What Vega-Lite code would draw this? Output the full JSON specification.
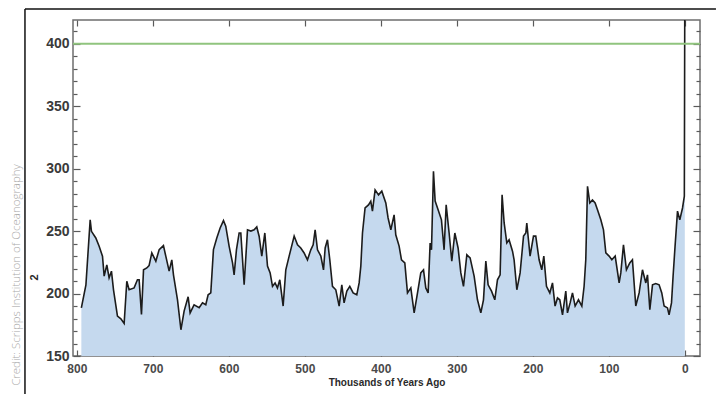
{
  "$schema": "https://vega.github.io/schema/vega-lite/v6.json",
  "width": 627,
  "height": 336,
  "autosize": "none",
  "padding": {"left": 73, "top": 20, "right": 16, "bottom": 38},
  "background": "white",
  "config": {
    "view": {"stroke": "#6e6e6e", "strokeWidth": 1.5},
    "axis": {
      "domain": false,
      "grid": false,
      "labelFont": "Liberation Sans",
      "labelFontWeight": "bold",
      "labelColor": "#3a3a3a",
      "tickColor": "#5a5a5a",
      "tickWidth": 1.2,
      "titleFont": "Liberation Sans",
      "titleFontWeight": "bold",
      "titleColor": "#2a2a2a"
    }
  },
  "title": {
    "text": "Credit: Scripps Institution of Oceanography",
    "orient": "left",
    "anchor": "start",
    "font": "Open Sans",
    "fontWeight": 300,
    "fontSize": 11.5,
    "color": "#a9a9a9",
    "offset": 2,
    "dx": 10
  },
  "data": {
    "values": [
      {"kyr": 794, "co2": 188.6}, {"kyr": 788, "co2": 207}, {"kyr": 782.4, "co2": 259}, {"kyr": 780.7, "co2": 249.8},
      {"kyr": 775, "co2": 244.5}, {"kyr": 770.6, "co2": 237.9}, {"kyr": 766.2, "co2": 229.9}, {"kyr": 764, "co2": 213.9},
      {"kyr": 760.5, "co2": 223}, {"kyr": 757.5, "co2": 212.5}, {"kyr": 754.4, "co2": 217.9}, {"kyr": 751.7, "co2": 203},
      {"kyr": 746.5, "co2": 181.9}, {"kyr": 742, "co2": 179.7}, {"kyr": 737.7, "co2": 176}, {"kyr": 734.2, "co2": 209.9},
      {"kyr": 731.2, "co2": 203}, {"kyr": 724.6, "co2": 204.5}, {"kyr": 720.2, "co2": 211}, {"kyr": 718, "co2": 211},
      {"kyr": 714.9, "co2": 183.2}, {"kyr": 712.2, "co2": 219}, {"kyr": 707.9, "co2": 220.5}, {"kyr": 704.9, "co2": 222.4},
      {"kyr": 701.3, "co2": 232.5}, {"kyr": 696, "co2": 225.9}, {"kyr": 691.6, "co2": 235.2}, {"kyr": 686, "co2": 238.4},
      {"kyr": 682.9, "co2": 229.9}, {"kyr": 678.5, "co2": 217.9}, {"kyr": 675, "co2": 227}, {"kyr": 672.8, "co2": 215},
      {"kyr": 667.5, "co2": 195}, {"kyr": 663, "co2": 171}, {"kyr": 658.8, "co2": 185.9}, {"kyr": 653.5, "co2": 197.4},
      {"kyr": 650.9, "co2": 184.5}, {"kyr": 645.7, "co2": 191}, {"kyr": 639, "co2": 188.6}, {"kyr": 634.6, "co2": 192.6},
      {"kyr": 630.3, "co2": 191}, {"kyr": 627.2, "co2": 199}, {"kyr": 623.7, "co2": 200.5}, {"kyr": 620.2, "co2": 235.2},
      {"kyr": 615.8, "co2": 244.5}, {"kyr": 611.4, "co2": 252.5}, {"kyr": 607, "co2": 258.4}, {"kyr": 604, "co2": 253.9},
      {"kyr": 599.6, "co2": 238}, {"kyr": 595.1, "co2": 224.5}, {"kyr": 593, "co2": 215}, {"kyr": 589.9, "co2": 235.2},
      {"kyr": 586.4, "co2": 248.5}, {"kyr": 584.2, "co2": 248.5}, {"kyr": 579.8, "co2": 207}, {"kyr": 575.4, "co2": 251},
      {"kyr": 571, "co2": 250}, {"kyr": 566.7, "co2": 251}, {"kyr": 563.2, "co2": 253.3}, {"kyr": 560.1, "co2": 245.9},
      {"kyr": 556.6, "co2": 229.9}, {"kyr": 552.6, "co2": 248.5}, {"kyr": 549.1, "co2": 222}, {"kyr": 545.6, "co2": 216.5},
      {"kyr": 542.5, "co2": 205.8}, {"kyr": 539.1, "co2": 208.5}, {"kyr": 536, "co2": 204.5}, {"kyr": 532.9, "co2": 211},
      {"kyr": 528.5, "co2": 190}, {"kyr": 525, "co2": 219}, {"kyr": 520.6, "co2": 230}, {"kyr": 514, "co2": 246},
      {"kyr": 509.6, "co2": 239}, {"kyr": 505.3, "co2": 236.5}, {"kyr": 500.9, "co2": 232.5}, {"kyr": 496.5, "co2": 227},
      {"kyr": 492.1, "co2": 235}, {"kyr": 489, "co2": 239}, {"kyr": 486.4, "co2": 251}, {"kyr": 483.3, "co2": 235},
      {"kyr": 478.9, "co2": 230}, {"kyr": 475.4, "co2": 219}, {"kyr": 473.2, "co2": 236.5}, {"kyr": 470.2, "co2": 243},
      {"kyr": 467.1, "co2": 227}, {"kyr": 463.6, "co2": 205.8}, {"kyr": 459.2, "co2": 203}, {"kyr": 454.8, "co2": 190},
      {"kyr": 451.3, "co2": 207}, {"kyr": 448.3, "co2": 192.5}, {"kyr": 444.7, "co2": 201.9}, {"kyr": 440.8, "co2": 205.8},
      {"kyr": 436.4, "co2": 200.5}, {"kyr": 431.6, "co2": 199}, {"kyr": 428.5, "co2": 208.5}, {"kyr": 426.3, "co2": 222},
      {"kyr": 424.1, "co2": 248.5}, {"kyr": 420.7, "co2": 268.5}, {"kyr": 416.2, "co2": 271}, {"kyr": 413.2, "co2": 273.9},
      {"kyr": 411, "co2": 266}, {"kyr": 407.5, "co2": 283}, {"kyr": 403, "co2": 279}, {"kyr": 398.7, "co2": 282},
      {"kyr": 393.4, "co2": 272.5}, {"kyr": 390.4, "co2": 260.5}, {"kyr": 386.8, "co2": 251}, {"kyr": 382.5, "co2": 263},
      {"kyr": 380.3, "co2": 247}, {"kyr": 375.9, "co2": 238}, {"kyr": 372.8, "co2": 227}, {"kyr": 368.4, "co2": 224.5},
      {"kyr": 364.9, "co2": 200.5}, {"kyr": 360.5, "co2": 204.5}, {"kyr": 356.1, "co2": 184.5}, {"kyr": 351.7, "co2": 200.5},
      {"kyr": 347.4, "co2": 216.5}, {"kyr": 343.8, "co2": 219}, {"kyr": 340.8, "co2": 204.5}, {"kyr": 337.7, "co2": 200.5},
      {"kyr": 335.1, "co2": 240.5}, {"kyr": 333.3, "co2": 235}, {"kyr": 330.7, "co2": 297.9}, {"kyr": 328.5, "co2": 274},
      {"kyr": 324.6, "co2": 267}, {"kyr": 320.2, "co2": 259}, {"kyr": 316.7, "co2": 235}, {"kyr": 314, "co2": 271},
      {"kyr": 310.1, "co2": 248.5}, {"kyr": 306.6, "co2": 226}, {"kyr": 302.6, "co2": 248.5}, {"kyr": 298.3, "co2": 236.5},
      {"kyr": 294.7, "co2": 216.5}, {"kyr": 291.2, "co2": 205.8}, {"kyr": 286.8, "co2": 231}, {"kyr": 282.5, "co2": 228.5},
      {"kyr": 277.2, "co2": 214}, {"kyr": 272.8, "co2": 195}, {"kyr": 268.4, "co2": 184.5}, {"kyr": 264.9, "co2": 195},
      {"kyr": 261.8, "co2": 226}, {"kyr": 258.8, "co2": 207}, {"kyr": 254.3, "co2": 201.9}, {"kyr": 250, "co2": 195},
      {"kyr": 246.5, "co2": 211}, {"kyr": 243, "co2": 215}, {"kyr": 240.4, "co2": 279}, {"kyr": 237.7, "co2": 256.5},
      {"kyr": 234.2, "co2": 240.5}, {"kyr": 231.2, "co2": 243}, {"kyr": 226.7, "co2": 233.9}, {"kyr": 224.6, "co2": 227},
      {"kyr": 221, "co2": 203}, {"kyr": 216.7, "co2": 216.5}, {"kyr": 212.2, "co2": 246}, {"kyr": 209.2, "co2": 248.5},
      {"kyr": 207.9, "co2": 256.5}, {"kyr": 203.6, "co2": 230}, {"kyr": 199.1, "co2": 246}, {"kyr": 196.1, "co2": 246},
      {"kyr": 191.7, "co2": 227}, {"kyr": 188.2, "co2": 219}, {"kyr": 185.5, "co2": 230}, {"kyr": 182, "co2": 205.8},
      {"kyr": 177.6, "co2": 200.5}, {"kyr": 174.1, "co2": 208.5}, {"kyr": 170.7, "co2": 190}, {"kyr": 167.5, "co2": 196.5},
      {"kyr": 164.5, "co2": 195}, {"kyr": 160.9, "co2": 183}, {"kyr": 156.6, "co2": 202}, {"kyr": 154.4, "co2": 184.5},
      {"kyr": 150.9, "co2": 192.5}, {"kyr": 147.8, "co2": 200.5}, {"kyr": 144.3, "co2": 190}, {"kyr": 139.9, "co2": 195},
      {"kyr": 135.5, "co2": 190}, {"kyr": 132.5, "co2": 205.8}, {"kyr": 130.3, "co2": 227}, {"kyr": 128, "co2": 285.9},
      {"kyr": 125, "co2": 272.5}, {"kyr": 121.5, "co2": 275}, {"kyr": 118, "co2": 272.5}, {"kyr": 114.9, "co2": 267},
      {"kyr": 110.5, "co2": 259}, {"kyr": 107, "co2": 251}, {"kyr": 103.9, "co2": 232.5}, {"kyr": 99.6, "co2": 230},
      {"kyr": 96, "co2": 227}, {"kyr": 91.6, "co2": 230}, {"kyr": 86.4, "co2": 208.5}, {"kyr": 84.2, "co2": 216.5},
      {"kyr": 80.7, "co2": 239}, {"kyr": 76.8, "co2": 219}, {"kyr": 72.4, "co2": 224.5}, {"kyr": 68.9, "co2": 227},
      {"kyr": 64.5, "co2": 190}, {"kyr": 60.1, "co2": 200.5}, {"kyr": 55.7, "co2": 219}, {"kyr": 51.3, "co2": 208.5},
      {"kyr": 49.1, "co2": 215}, {"kyr": 46, "co2": 187}, {"kyr": 42.5, "co2": 207}, {"kyr": 38.2, "co2": 208},
      {"kyr": 33.8, "co2": 207}, {"kyr": 30.3, "co2": 200.5}, {"kyr": 27.2, "co2": 190}, {"kyr": 22.8, "co2": 188.5},
      {"kyr": 20.7, "co2": 183}, {"kyr": 17.5, "co2": 192.5}, {"kyr": 15.4, "co2": 214}, {"kyr": 12.8, "co2": 238},
      {"kyr": 9.6, "co2": 266}, {"kyr": 6.6, "co2": 259}, {"kyr": 3, "co2": 268.5}, {"kyr": 0.6, "co2": 278},
      {"kyr": 0, "co2": 440}
    ]
  },
  "layer": [
    {
      "mark": {"type": "area", "color": "#c5d9ee", "clip": true},
      "encoding": {
        "x": {
          "field": "kyr", "type": "quantitative",
          "scale": {"domain": [-20, 805], "reverse": true, "nice": false, "zero": false},
          "axis": {
            "orient": "bottom",
            "values": [0, 100, 200, 300, 400, 500, 600, 700, 800],
            "tickSize": -6,
            "labelPadding": 13,
            "labelFontSize": 12,
            "labelColor": "#4a4a4a",
            "title": "Thousands of Years Ago",
            "titleFontSize": 10,
            "titlePadding": 3
          }
        },
        "y": {
          "field": "co2", "type": "quantitative",
          "scale": {"domain": [150, 419], "nice": false, "zero": false},
          "axis": {
            "orient": "left",
            "values": [150, 160, 170, 180, 190, 200, 210, 220, 230, 240, 250, 260, 270, 280, 290, 300, 310, 320, 330, 340, 350, 360, 370, 380, 390, 400, 410],
            "labelExpr": "datum.value % 50 === 0 ? datum.label : ''",
            "tickSize": {"condition": {"test": "datum.value % 50 === 0", "value": -7}, "value": -4},
            "labelPadding": 11,
            "labelFontSize": 14,
            "title": "2",
            "titleFontSize": 11,
            "titlePadding": 6,
            "titleY": 257
          }
        },
        "y2": {"datum": 150}
      }
    },
    {
      "mark": {"type": "line", "color": "#1c1c1c", "strokeWidth": 1.6, "clip": true},
      "encoding": {
        "x": {"field": "kyr", "type": "quantitative", "scale": {"domain": [-20, 805], "reverse": true, "nice": false, "zero": false}, "axis": null},
        "y": {"field": "co2", "type": "quantitative", "scale": {"domain": [150, 419], "nice": false, "zero": false}, "axis": null}
      }
    },
    {
      "data": {"values": [{"level": 400}]},
      "mark": {"type": "rule", "color": "#90c47e", "strokeWidth": 2},
      "encoding": {
        "y": {
          "field": "level", "type": "quantitative",
          "scale": {"domain": [150, 419], "nice": false, "zero": false},
          "axis": {
            "orient": "right",
            "values": [150, 160, 170, 180, 190, 200, 210, 220, 230, 240, 250, 260, 270, 280, 290, 300, 310, 320, 330, 340, 350, 360, 370, 380, 390, 400, 410],
            "labels": false,
            "tickSize": {"condition": {"test": "datum.value % 50 === 0", "value": -7}, "value": -4},
            "title": null
          }
        }
      }
    },
    {
      "data": {"values": [{"x1": 868.2, "x2": -41, "y1": 427.8}]},
      "mark": {"type": "rule", "color": "#111111", "strokeWidth": 1.5},
      "encoding": {
        "x": {
          "field": "x1", "type": "quantitative",
          "scale": {"domain": [-20, 805], "reverse": true, "nice": false, "zero": false},
          "axis": {"orient": "top", "values": [0, 100, 200, 300, 400, 500, 600, 700, 800], "labels": false, "tickSize": -6, "title": null}
        },
        "x2": {"field": "x2"},
        "y": {"field": "y1", "type": "quantitative", "scale": {"domain": [150, 419], "nice": false, "zero": false}, "axis": null}
      }
    },
    {
      "data": {"values": [{"x1": 868.2, "y1": 427.8, "y2": 118.7}]},
      "mark": {"type": "rule", "color": "#111111", "strokeWidth": 1.5},
      "encoding": {
        "x": {"field": "x1", "type": "quantitative", "scale": {"domain": [-20, 805], "reverse": true, "nice": false, "zero": false}, "axis": null},
        "y": {"field": "y1", "type": "quantitative", "scale": {"domain": [150, 419], "nice": false, "zero": false}, "axis": null},
        "y2": {"field": "y2"}
      }
    }
  ],
  "resolve": {"axis": {"x": "independent", "y": "independent"}}
}
